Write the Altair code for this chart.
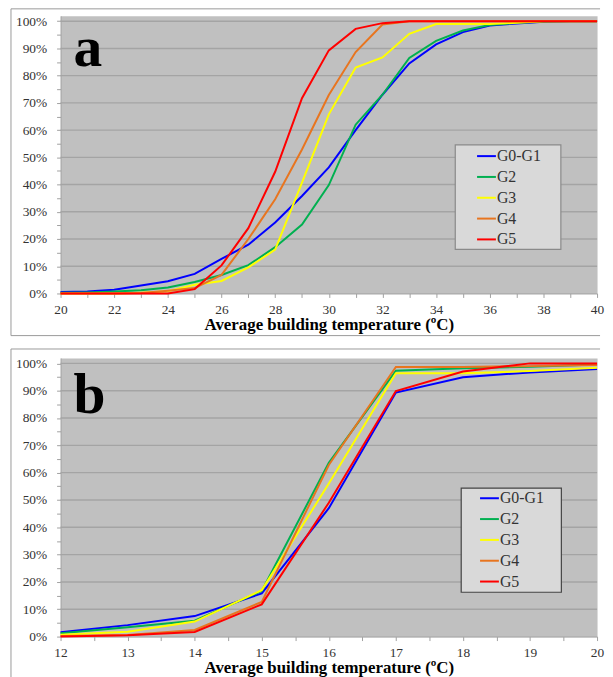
import altair as alt
import pandas as pd

series_names = ["G0-G1", "G2", "G3", "G4", "G5"]
series_colors = ["#0000FF", "#00B050", "#FFFF00", "#E8751F", "#FF0000"]

# Panel a: cumulative % vs average building temperature (20..40 ºC)
temps_a = [20, 21, 22, 23, 24, 25, 26, 27, 28, 29, 30, 31, 32, 33, 34, 35, 36, 37, 38, 39, 40]
a_g0g1 = [0.5, 0.7, 1.4, 2.9, 4.5, 7.2, 12.7, 17.9, 26.1, 35.8, 46.3, 60.0, 73.0, 84.5, 91.5, 96.0, 98.4, 99.2, 99.8, 100, 100]
a_g2 = [0.3, 0.4, 0.7, 1.2, 2.2, 4.2, 6.8, 10.4, 17.0, 25.3, 39.8, 62.0, 73.0, 86.5, 92.8, 96.6, 98.6, 99.4, 99.8, 100, 100]
a_g3 = [0, 0, 0, 0.3, 0.8, 3.2, 4.6, 9.6, 16.1, 40.7, 65.8, 83.0, 86.7, 95.4, 99.0, 99.0, 99.0, 99.4, 100, 100, 100]
a_g4 = [0, 0, 0, 0.2, 1.0, 2.0, 6.8, 20.0, 34.6, 52.9, 72.9, 88.7, 98.8, 100, 100, 100, 100, 100, 100, 100, 100]
a_g5 = [0, 0, 0, 0, 0, 1.6, 10.3, 24.0, 44.7, 71.7, 89.3, 97.2, 99.3, 100, 100, 100, 100, 100, 100, 100, 100]

# Panel b: cumulative % vs average building temperature (12..20 ºC)
temps_b = [12, 13, 14, 15, 16, 17, 18, 19, 20]
b_g0g1 = [1.6, 4.2, 7.5, 15.8, 47.0, 89.3, 94.9, 96.7, 97.9]
b_g2 = [1.2, 3.4, 5.8, 16.7, 63.6, 97.3, 98.2, 98.8, 99.6]
b_g3 = [0.7, 1.8, 5.5, 17.0, 56.0, 96.4, 96.4, 97.2, 98.4]
b_g4 = [0.2, 0.6, 2.4, 12.7, 62.8, 98.7, 98.7, 99.0, 99.4]
b_g5 = [0.0, 0.5, 1.7, 11.8, 49.0, 89.9, 97.0, 100, 100]

y_ticks = [0, 5, 10, 15, 20, 25, 30, 35, 40, 45, 50, 55, 60, 65, 70, 75, 80, 85, 90, 95, 100]
grid_levels = [10, 20, 30, 40, 50, 60, 70, 80, 90, 100]
x_ticks_a = [20, 21, 22, 23, 24, 25, 26, 27, 28, 29, 30, 31, 32, 33, 34, 35, 36, 37, 38, 39, 40]
x_ticks_b = [12, 12.5, 13, 13.5, 14, 14.5, 15, 15.5, 16, 16.5, 17, 17.5, 18, 18.5, 19, 19.5, 20]

SERIF = "Liberation Serif, Times New Roman, Times, DejaVu Serif, serif"
FRAME = "#9A9A9A"
one = pd.DataFrame({"k": [0]})


def panel(temps, series_values, xdom, xticks, label_mod, letter, letter_y,
          legend_xy, box, box_stroke, frame_top, frame_bottom, left_end, height, title_y):
    rows = []
    for name, vals in zip(series_names, series_values):
        for t, v in zip(temps, vals):
            rows.append({"temp": t, "pct": v, "series": name})
    df = pd.DataFrame(rows)

    y_enc = alt.Y(
        "pct:Q",
        scale=alt.Scale(domain=[0, 102], nice=False, zero=True),
        axis=alt.Axis(values=y_ticks,
                      labelExpr="datum.value % 10 == 0 ? datum.value + '%' : ''",
                      title=None, grid=False, tickSize=4, labelPadding=10,
                      labelOverlap=False),
    )
    x_enc = alt.X(
        "temp:Q",
        scale=alt.Scale(domain=xdom, nice=False, zero=False),
        axis=alt.Axis(values=xticks,
                      labelExpr=f"datum.value % {label_mod} == 0 ? format(datum.value, 'd') : ''",
                      title="Average building temperature (ºC)", grid=False,
                      labelFlush=False, labelOverlap=False, tickSize=4, labelPadding=5,
                      titleY=title_y, titleBaseline="alphabetic"),
    )

    layers = []
    # outer frame (top, left, optional bottom)
    layers.append(alt.Chart(one).mark_rule(color=FRAME, strokeWidth=1).encode(
        x=alt.value(-50), x2=alt.value(544), y=alt.value(frame_top)))
    layers.append(alt.Chart(one).mark_rule(color=FRAME, strokeWidth=1).encode(
        x=alt.value(-50), y=alt.value(frame_top), y2=alt.value(left_end)))
    if frame_bottom is not None:
        layers.append(alt.Chart(one).mark_rule(color=FRAME, strokeWidth=1).encode(
            x=alt.value(-50), x2=alt.value(544), y=alt.value(frame_bottom)))

    grid = alt.Chart(pd.DataFrame({"pct": grid_levels})).mark_rule(
        color="#A4A4A4", strokeWidth=1.4).encode(y=y_enc)
    layers.append(grid)

    lines = alt.Chart(df).mark_line(strokeWidth=2).encode(
        x=x_enc,
        y=y_enc,
        color=alt.Color(
            "series:N",
            scale=alt.Scale(domain=series_names, range=series_colors),
            legend=alt.Legend(orient="none", legendX=legend_xy[0], legendY=legend_xy[1],
                              title=None, symbolType="stroke", symbolSize=361,
                              symbolStrokeWidth=2, labelFont=SERIF, labelFontSize=16,
                              labelColor="#333333", rowPadding=2, padding=0,
                              labelOffset=0, symbolOffset=0),
        ),
    )
    layers.append(lines)

    layers.append(alt.Chart(one).mark_rect(fill="#D9D9D9", stroke=box_stroke, strokeWidth=1.2).encode(
        x=alt.value(box[0]), x2=alt.value(box[1]), y=alt.value(box[2]), y2=alt.value(box[3])))

    layers.append(alt.Chart(one).mark_text(
        text=letter, font=SERIF, fontSize=58, fontWeight="bold", align="left",
        baseline="alphabetic", color="#000000").encode(x=alt.value(13), y=alt.value(letter_y)))

    return alt.layer(*layers).properties(width=541, height=height)


pa = panel(temps_a, [a_g0g1, a_g2, a_g3, a_g4, a_g5], [20, 40], x_ticks_a, 2, "a", 51,
           (419, 131), (398, 504.5, 130.2, 235.5), "#8A8A8A", -7, 322.5, 322.5, 280, 36)
pb = panel(temps_b, [b_g0g1, b_g2, b_g3, b_g4, b_g5], [12, 20], x_ticks_b, 1, "b", 56,
           (422, 131), (404, 505, 131.3, 236.3), "#444444", -9, None, 330, 281, 36)

chart = alt.vconcat(pa, pb, spacing=11).resolve_scale(color="independent").properties(
    padding={"left": 2, "top": -3, "right": 0, "bottom": 0}
).configure_view(fill="#C0C0C0", stroke="transparent").configure_axis(
    labelFont=SERIF, labelFontSize=13.5, labelColor="#333333",
    domainColor="#A0A0A0", tickColor="#A0A0A0",
    titleFont=SERIF, titleFontSize=17, titleFontWeight="bold", titleColor="#000000",
)

chart.save("out.html", embed_options={"renderer": "svg", "actions": False})
